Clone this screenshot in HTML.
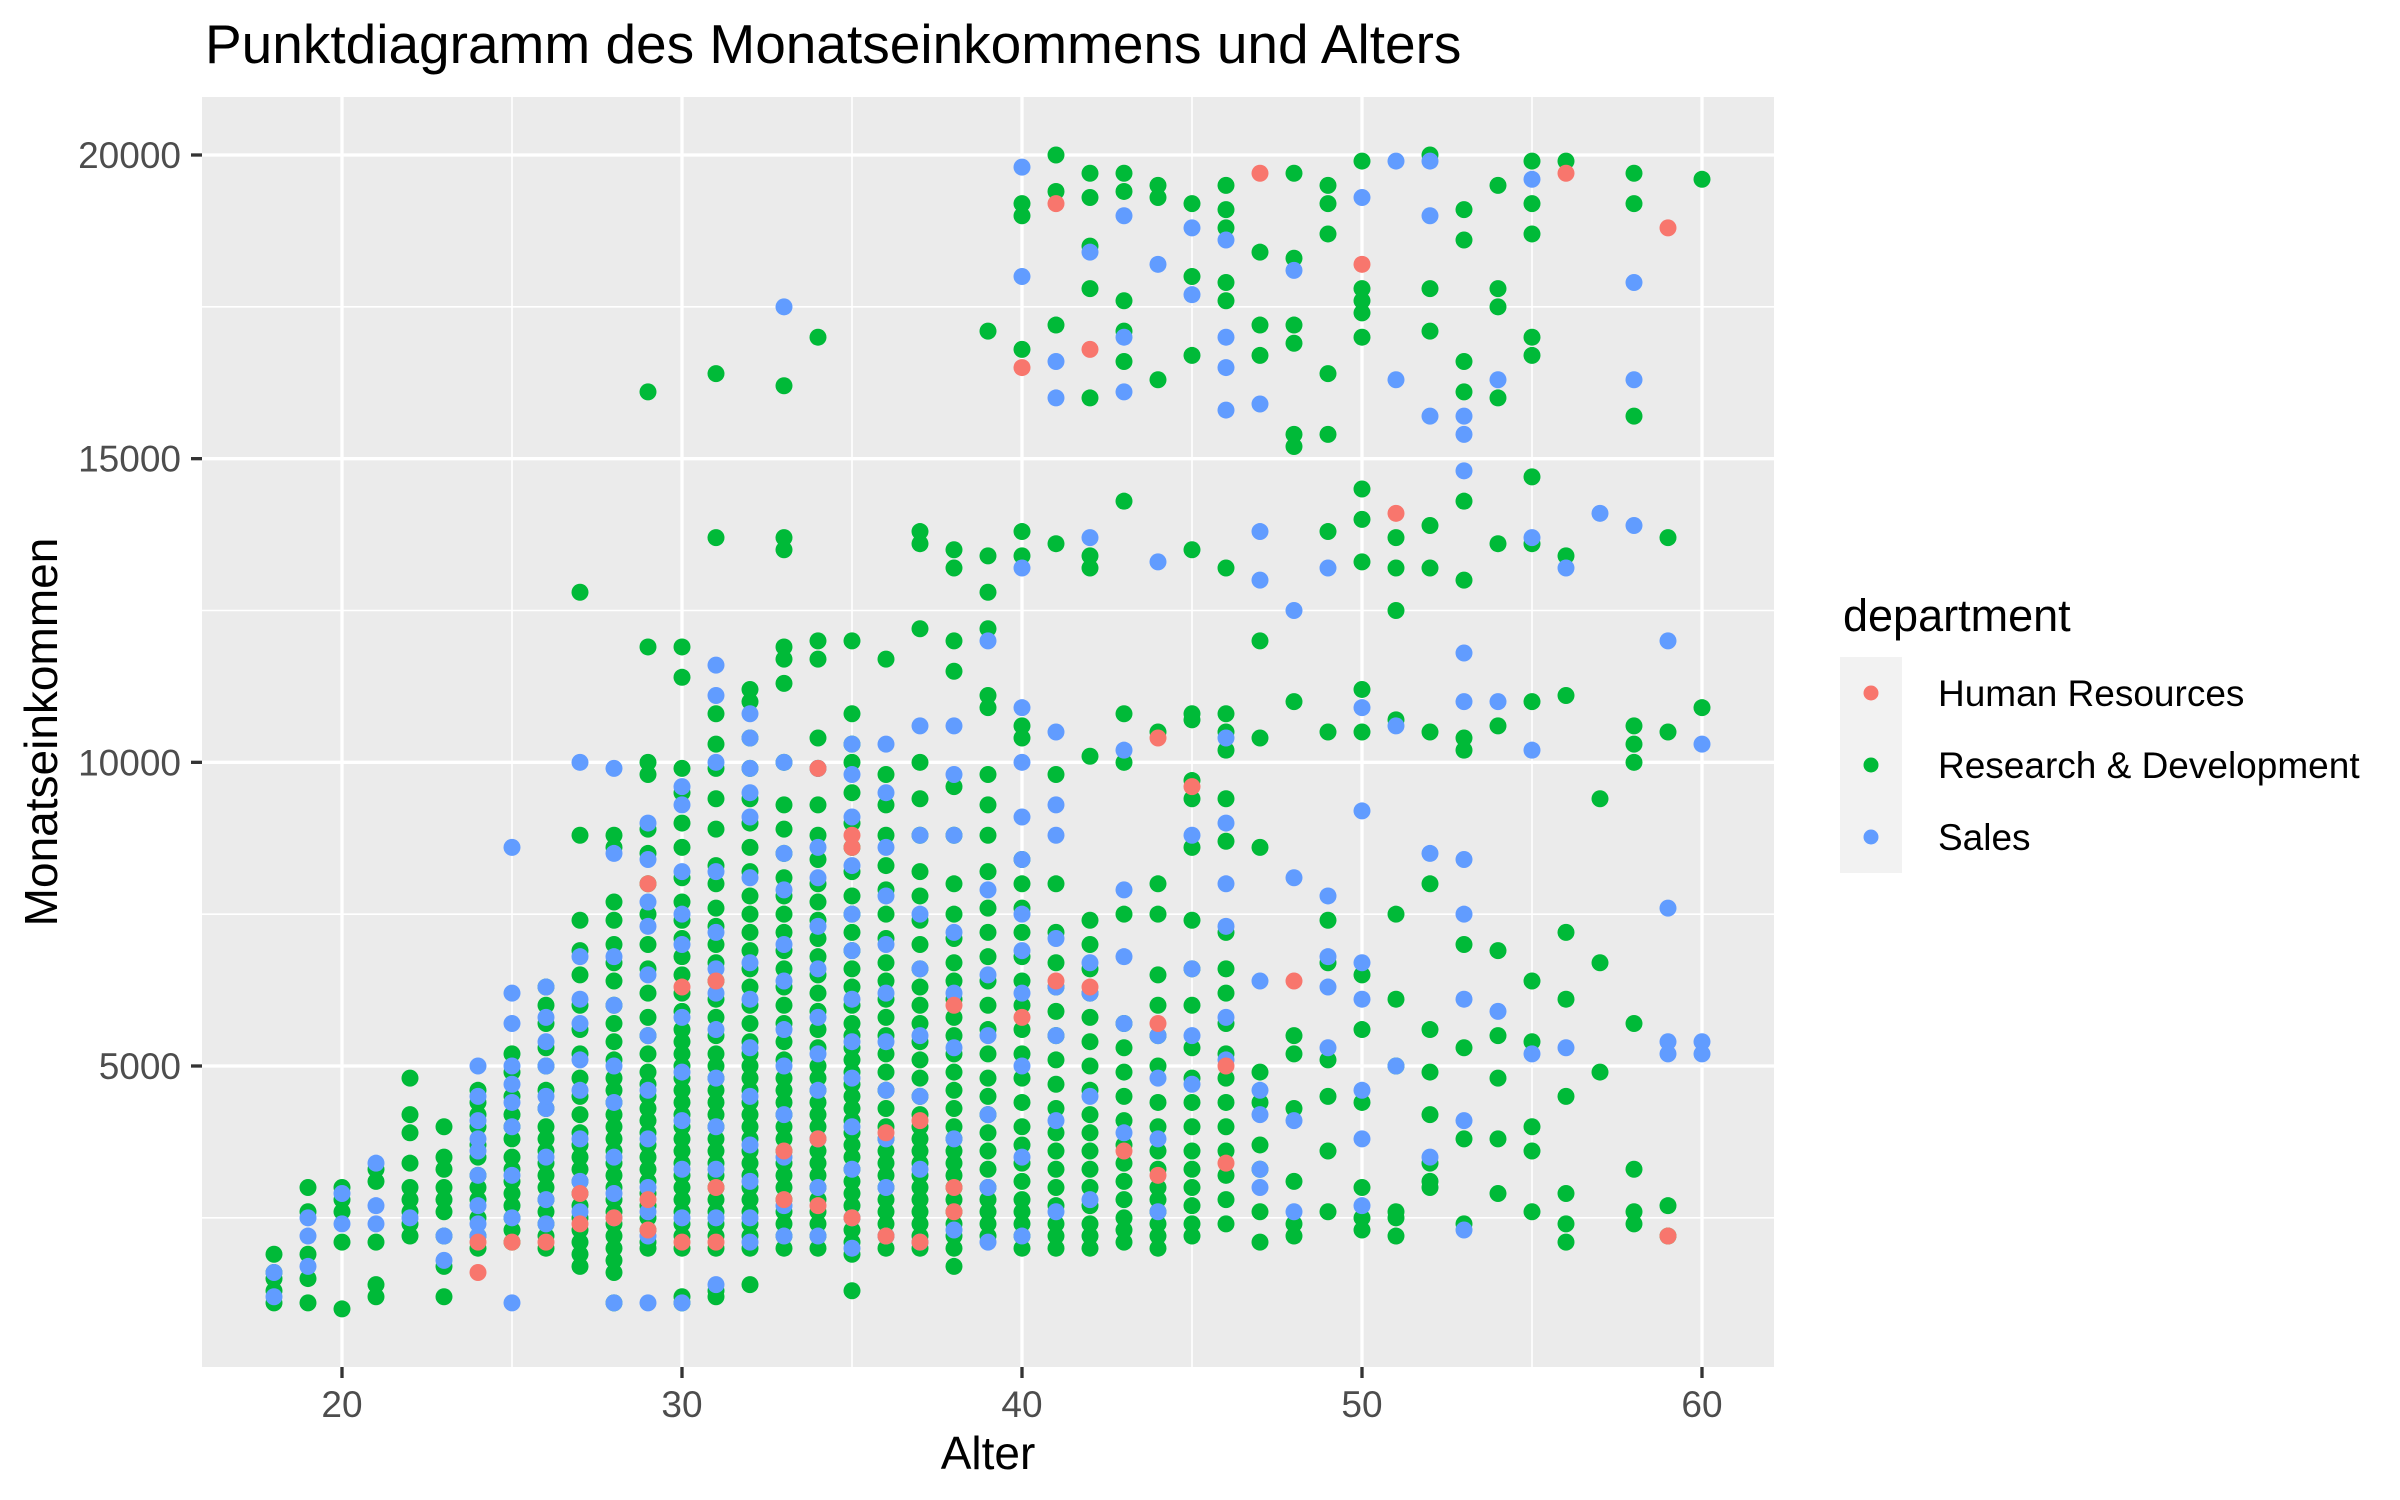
<!DOCTYPE html>
<html><head><meta charset="utf-8"><style>
html,body{margin:0;padding:0;background:#fff;}
svg{display:block;font-family:"Liberation Sans",Arial,sans-serif;}
</style></head><body>
<svg id="chart" width="2400" height="1500" viewBox="0 0 2400 1500">
<text x="205" y="63" font-size="55" fill="#000">Punktdiagramm des Monatseinkommens und Alters</text>
<rect x="202" y="97" width="1572" height="1270" fill="#EBEBEB"/>
<g id="grid"></g><g id="points"></g><g id="axes"></g>
<text x="988" y="1469" font-size="46" text-anchor="middle">Alter</text>
<text transform="translate(57,732) rotate(-90)" font-size="46" text-anchor="middle">Monatseinkommen</text>
<text x="1843" y="631" font-size="45">department</text>
<rect x="1840" y="657" width="62" height="216" fill="#F2F2F2"/>
<g><circle cx="1871" cy="693" r="7.5" fill="#F8766D"/><text x="1938" y="706" font-size="37">Human Resources</text></g>
<g><circle cx="1871" cy="765" r="7.5" fill="#00BA38"/><text x="1938" y="778" font-size="37">Research &amp; Development</text></g>
<g><circle cx="1871" cy="837" r="7.5" fill="#619CFF"/><text x="1938" y="850" font-size="37">Sales</text></g>
</svg>
<script>
// income values in hundreds, grouped by age
const ages=[18,19,20,21,22,23,24,25,26,27,28,29,30,31,32,33,34,35,36,37,38,39,40,41,42,43,44,45,46,47,48,49,50,51,52,53,54,55,56,57,58,59,60];
const rdIncome=[
[11,13,15,16,19],[11,15,19,26,30],[10,21,26,28,30],[12,14,21,31,33],[22,24,26,28,30,34,39,42,48],[12,17,22,26,28,30,33,35,40],
[20,22,25,28,30,32,35,37,40,42,44,46],[21,23,25,27,29,31,33,35,38,40,42,45,49,52],
[20,22,24,26,28,30,32,34,36,38,40,43,46,50,53,57,60,63],
[17,19,21,23,25,27,29,31,33,35,37,39,42,45,48,52,56,60,65,69,74,88,128],
[11,16,18,20,22,24,26,28,30,32,34,36,38,40,42,44,46,48,51,54,57,60,64,67,70,74,77,86,88],
[20,21,23,25,27,29,31,33,35,37,39,41,43,45,47,49,52,55,58,62,66,70,75,80,85,89,98,100,119,161],
[11,12,20,22,24,26,28,30,32,34,36,38,40,42,44,46,48,50,52,54,56,59,62,65,68,71,74,77,81,86,90,95,99,114,119],
[12,13,20,22,24,26,28,30,32,34,36,38,40,42,44,46,48,50,52,55,58,61,64,67,70,73,76,80,83,89,94,99,103,108,137,164],
[14,20,22,24,26,28,30,32,34,36,38,40,42,44,46,48,50,52,54,57,60,63,66,69,72,75,78,82,86,90,94,99,104,110,112],
[20,22,24,26,28,30,32,34,36,38,40,42,44,46,48,51,54,57,60,63,66,69,72,75,78,81,85,89,93,100,113,117,119,135,137,162],
[20,22,24,26,28,30,32,34,36,38,40,42,44,46,48,50,53,56,59,62,65,68,71,74,77,80,84,88,93,99,104,117,120,170],
[13,19,21,23,25,27,29,31,33,35,37,39,41,43,45,47,49,51,53,55,57,60,63,66,69,72,75,78,82,86,90,95,100,103,108,120],
[20,22,24,26,28,30,32,34,36,38,40,43,46,49,52,55,58,61,64,67,71,75,79,83,88,93,98,117],
[20,22,24,26,28,30,32,34,36,38,40,42,45,48,51,54,57,60,63,66,70,74,78,82,88,94,100,122,136,138],
[17,20,22,24,26,28,30,32,34,36,38,40,43,46,49,52,55,58,61,64,67,71,75,80,88,96,115,120,132,135],
[22,24,26,28,30,33,36,39,42,45,48,52,56,60,64,68,72,76,82,88,93,98,109,111,122,128,134,171],
[20,22,24,26,28,31,34,37,40,44,48,52,56,60,64,68,72,76,80,84,104,106,134,138,168,190,192],
[20,22,24,27,30,33,36,39,43,47,51,55,59,63,67,72,80,98,136,172,194,200],
[20,22,24,27,30,33,36,39,42,46,50,54,58,62,66,70,74,101,132,134,160,178,185,193,197],
[21,23,25,28,31,34,37,41,45,49,53,57,75,100,108,143,166,171,176,194,197],
[20,22,24,26,28,30,33,36,40,44,50,55,60,65,75,80,105,163,193,195],
[22,24,27,30,33,36,40,44,48,53,60,66,74,86,94,97,107,108,135,167,180,192],
[24,28,32,36,40,44,48,52,57,62,66,72,87,94,102,105,108,132,176,179,188,191,195],
[21,26,33,37,44,49,86,104,120,167,172,184],
[22,24,31,43,52,55,110,152,154,169,172,183,197],
[26,36,45,51,67,74,105,138,154,164,187,192,195],
[23,25,30,44,56,65,105,112,133,140,145,170,174,176,178,199],
[22,25,26,50,61,75,107,125,132,137],
[30,31,34,42,49,56,80,105,132,139,171,178,200],
[24,38,53,70,102,104,130,143,161,166,186,191],
[29,38,48,55,69,106,136,160,175,178,195],
[26,36,40,54,64,110,136,147,167,170,187,192,199],
[21,24,29,45,61,72,111,134,199],
[49,67,94],
[24,26,33,57,100,103,106,157,192,197],
[22,27,105,137],
[109,196]];
const salesIncome=[
[12,16],[17,22,25],[24,29],[24,27,34],[25],[18,22],
[22,24,27,32,36,38,41,45,50],[11,25,32,40,44,47,50,57,62,86],[24,28,35,43,45,50,54,58,63],
[26,31,38,46,51,57,61,68,100],[11,25,29,35,44,50,60,68,85,99],[11,22,26,30,38,46,55,65,73,77,84,90],
[11,25,33,41,49,58,70,75,82,93,96],[14,25,33,40,48,56,62,66,72,82,100,111,116],
[21,25,31,37,45,53,61,67,81,91,95,99,104,108],[22,27,35,42,50,56,64,70,79,85,100,175],
[22,30,38,46,52,58,66,73,81,86,99],[20,25,33,40,48,54,61,69,75,83,91,98,103],
[22,30,38,46,54,62,70,78,86,95,103],[21,33,45,55,66,75,88,106],[23,38,53,62,72,88,98,106],
[21,30,42,55,65,79,120],[22,35,50,62,69,75,84,91,100,109,132,180,198],[26,41,55,63,71,88,93,105,160,166],
[28,45,62,67,137,184],[39,57,68,79,102,161,170,190],[26,38,48,55,133,182],[47,55,66,88,177,188],
[51,58,73,80,90,104,158,165,170,186],[30,33,42,46,64,130,138,159],[26,41,81,125,181],[53,63,68,78,132],
[27,38,46,61,67,92,109,193],[50,106,163,199],[35,85,157,190,199],[23,41,61,75,84,110,118,148,154,157],
[59,110,163],[52,102,137,196],[53,132],[141],[139,163,179],[52,54,76,120],[52,54,103]];
const hrIncome=[
[],[],[],[],[],[],[16,21],[21],[21],[24,29],[25],[23,28,80],[21,63],[21,30,64],[],[28,36],[27,38,99],[25,86,88],
[22,39],[21,41],[26,30,60],[],[58,165],[64,192],[63,168],[36],[32,57,104],[96],[34,50],[197],[64],[],[182],[141],
[],[],[],[],[197],[],[],[22,188],[]];
const xTicks=[20,30,40,50,60];
const yTicks=[5000,10000,15000,20000];
const xMinor=[25,35,45,55];
const yMinor=[2500,7500,12500,17500];

const NS="http://www.w3.org/2000/svg";
const PL=202,PR=1774,PT=97,PB=1367;
function xs(a){return 342+(a-20)*34;}
function ys(v){return 1066-(v-5000)*(911/15000);}
function mk(tag,attrs,parent){const e=document.createElementNS(NS,tag);for(const k in attrs)e.setAttribute(k,attrs[k]);parent.appendChild(e);return e;}
const grid=document.getElementById('grid'),axes=document.getElementById('axes'),pts=document.getElementById('points');
xMinor.forEach(t=>{const l=mk('line',{x1:xs(t),x2:xs(t),y1:PT,y2:PB,stroke:'#fff','stroke-width':1.6},grid);

});
yMinor.forEach(t=>{const l=mk('line',{x1:PL,x2:PR,y1:ys(t),y2:ys(t),stroke:'#fff','stroke-width':1.6},grid);

});
xTicks.forEach(t=>{const l=mk('line',{x1:xs(t),x2:xs(t),y1:PT,y2:PB,stroke:'#fff','stroke-width':3.3},grid);


const tk=mk('line',{x1:xs(t),x2:xs(t),y1:PB,y2:PB+11,stroke:'#333','stroke-width':3.3},axes);


const tx=mk('text',{x:xs(t),y:1417,'font-size':37,'text-anchor':'middle',fill:'#4D4D4D'},axes);tx.textContent=t;

});
yTicks.forEach(t=>{const l=mk('line',{x1:PL,x2:PR,y1:ys(t),y2:ys(t),stroke:'#fff','stroke-width':3.3},grid);


const tk=mk('line',{x1:PL-11,x2:PL,y1:ys(t),y2:ys(t),stroke:'#333','stroke-width':3.3},axes);


const tx=mk('text',{x:181,y:ys(t)+13,'font-size':37,'text-anchor':'end',fill:'#4D4D4D'},axes);tx.textContent=t;

});
function draw(series,color,name){
  ages.forEach((a,i)=>{(series[i]||[]).forEach(v=>{
    const c=mk('circle',{cx:xs(a),cy:ys(v*100),r:8.5,fill:color},pts);
    
    
  });});
}
draw(rdIncome,'#00BA38','point-research-development');
draw(salesIncome,'#619CFF','point-sales');
draw(hrIncome,'#F8766D','point-human-resources');
</script>
</body></html>
